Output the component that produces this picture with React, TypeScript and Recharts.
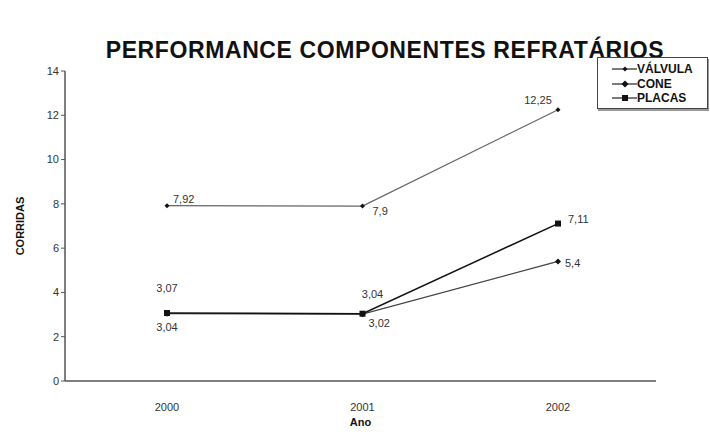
import { LineChart, Line, XAxis, YAxis, LabelList } from 'recharts'

const years = ['2000', '2001', '2002']
const valvula = [7.92, 7.9, 12.25]
const cone = [3.04, 3.02, 5.4]
const placas = [3.07, 3.04, 7.11]
const yTicks = [0, 2, 4, 6, 8, 10, 12, 14]

const data = years.map((ano, i) => ({ ano, valvula: valvula[i], cone: cone[i], placas: placas[i] }))

// label offsets per point: [dx, dy, anchor]
const labelPos: Record<string, [number, number, string][]> = {
  valvula: [[6, -6, 'start'], [10, 6, 'start'], [-20, -9, 'middle']],
  placas: [[0, -24, 'middle'], [10, -19, 'middle'], [10, -3, 'start']],
  cone: [[0, 14, 'middle'], [6, 10, 'start'], [7, 3, 'start']],
}

const fmt = (v: number) => String(v).replace('.', ',')

function pointLabel(key: string) {
  return (p: any) => {
    const [dx, dy, anchor] = labelPos[key][p.index]
    return (
      <text x={p.x + dx} y={p.y + dy} textAnchor={anchor} dominantBaseline="middle"
        fontSize={11} fill="#333" fontFamily="Liberation Sans, Arial, sans-serif">
        {fmt(p.value)}
      </text>
    )
  }
}

const Square = (p: any) => <rect x={p.cx - 3} y={p.cy - 3} width={6} height={6} fill="#111" />
const Diamond = (r: number) => (p: any) => (
  <path d={`M${p.cx},${p.cy - r}L${p.cx + r},${p.cy}L${p.cx},${p.cy + r}L${p.cx - r},${p.cy}Z`} fill="#111" />
)

const legendItems = [
  { name: 'VÁLVULA', marker: 'd' },
  { name: 'CONE', marker: 'c' },
  { name: 'PLACAS', marker: 's' },
]

function LegendBox() {
  return (
    <div style={{ position: 'absolute', left: 597, top: 57, border: '1px solid #444', boxShadow: '1px 2px 0 #999', background: '#fff', width: 111, height: 52, padding: '4px 0 0 14px', boxSizing: 'border-box' }}>
      {legendItems.map((it) => (
        <div key={it.name} style={{ display: 'flex', alignItems: 'center', height: 14.5 }}>
          <svg width={25} height={10}>
            <line x1={0} y1={5} x2={25} y2={5} stroke="#222" strokeWidth={1.2} />
            {it.marker === 's' ? <rect x={10} y={2} width={6} height={6} fill="#111" /> :
              <path d={`M13,${it.marker === 'd' ? 2.5 : 1.5}L${it.marker === 'd' ? 15.5 : 16.5},5L13,${it.marker === 'd' ? 7.5 : 8.5}L${it.marker === 'd' ? 10.5 : 9.5},5Z`} fill="#111" />}
          </svg>
          <span style={{ fontSize: 12, fontWeight: 'bold', color: '#111', fontFamily: 'Liberation Sans, Arial, sans-serif' }}>{it.name}</span>
        </div>
      ))}
    </div>
  )
}

export default function App() {
  const font = 'Liberation Sans, Arial, sans-serif'
  return (
    <div style={{ position: 'absolute', left: 0, top: 0, width: 710, height: 437, background: '#fff', fontFamily: font }}>
      <div style={{ position: 'absolute', top: 37, left: 0, width: 770, textAlign: 'center', fontSize: 23, letterSpacing: 0.6, fontWeight: 'bold', color: '#111' }}>
        PERFORMANCE COMPONENTES REFRATÁRIOS
      </div>
      <LineChart width={710} height={437} data={data} margin={{ top: 71, right: 54, left: 0, bottom: 26 }}>
        <XAxis dataKey="ano" axisLine={{ stroke: '#555', strokeWidth: 1.5 }} tickLine={false} padding={{ left: 102, right: 98 }}
          tick={{ fill: '#333', fontSize: 11, fontFamily: font }} tickMargin={16} height={30}
          label={{ value: 'Ano', position: 'insideBottom', offset: -15, fill: '#111', fontSize: 11, fontWeight: 'bold', fontFamily: font }} />
        <YAxis domain={[0, 14]} ticks={yTicks} width={65} axisLine={{ stroke: '#555', strokeWidth: 1.5 }}
          tickLine={{ stroke: '#555' }} tickSize={4} tick={{ fill: '#333', fontSize: 11, fontFamily: font }}
          label={{ value: 'CORRIDAS', angle: -90, position: 'insideLeft', offset: 20, fill: '#111', fontSize: 11, fontWeight: 'bold', fontFamily: font, style: { textAnchor: 'middle' } }} />
        <Line dataKey="valvula" name="VÁLVULA" stroke="#666" strokeWidth={1.3} dot={Diamond(2.5)} activeDot={false} isAnimationActive={false}>
          <LabelList dataKey="valvula" content={pointLabel('valvula')} />
        </Line>
        <Line dataKey="cone" name="CONE" stroke="#444" strokeWidth={1.3} dot={Diamond(3)} activeDot={false} isAnimationActive={false}>
          <LabelList dataKey="cone" content={pointLabel('cone')} />
        </Line>
        <Line dataKey="placas" name="PLACAS" stroke="#111" strokeWidth={1.5} dot={Square} activeDot={false} isAnimationActive={false}>
          <LabelList dataKey="placas" content={pointLabel('placas')} />
        </Line>
      </LineChart>
      <LegendBox />
    </div>
  )
}
